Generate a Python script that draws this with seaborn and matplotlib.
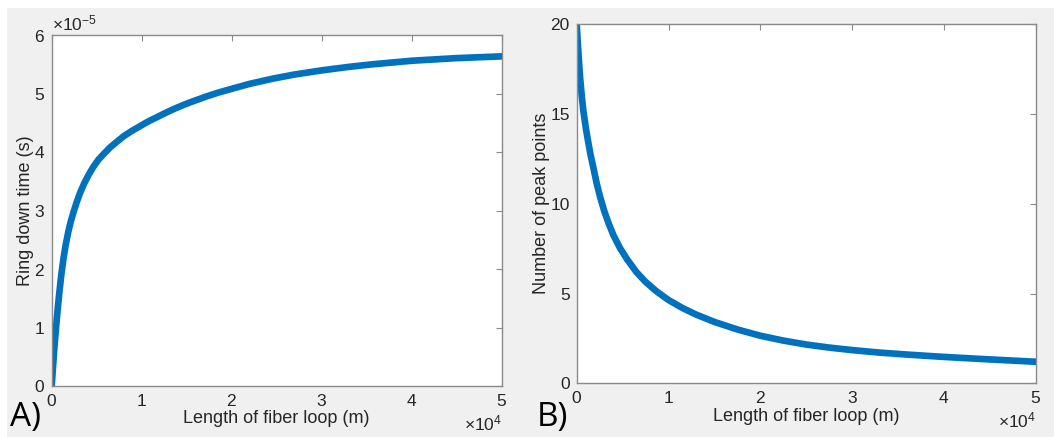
import matplotlib
matplotlib.use("Agg")
import matplotlib.pyplot as plt
from matplotlib.patches import Rectangle
from matplotlib.ticker import ScalarFormatter
import seaborn as sns
import pandas as pd

# ---- data ----
length_ring_m = [0, 130, 260, 400, 550, 700, 850, 1050, 1300, 1550, 1850, 2100,
                 2400, 2750, 3150, 3600, 4100, 4600, 5200, 5800, 6500, 7200, 8000,
                 8900, 9800, 10700, 11700, 12600, 13500, 14500, 15400, 16300,
                 17200, 18500, 20000, 22000, 24600, 27000, 30000, 33000, 35700,
                 40000, 45000, 50000]
ring_down_1e5 = [0.0, 0.29, 0.58, 0.85, 1.12, 1.37, 1.60, 1.88, 2.17, 2.41, 2.64,
                 2.80, 2.96, 3.13, 3.30, 3.46, 3.61, 3.74, 3.87, 3.97, 4.08, 4.17,
                 4.27, 4.36, 4.44, 4.52, 4.595, 4.665, 4.73, 4.795, 4.85, 4.90,
                 4.95, 5.015, 5.08, 5.165, 5.255, 5.325, 5.395, 5.455, 5.50, 5.56,
                 5.605, 5.635]
ring_down_s = [v * 1e-5 for v in ring_down_1e5]

length_peak_m = [0, 150, 360, 550, 720, 1000, 1270, 1500, 1800, 2150, 2540, 3000,
                 3450, 4000, 4700, 5500, 6500, 7500, 8700, 10000, 11500, 13000,
                 15000, 17500, 20000, 22500, 25000, 27500, 30000, 33000, 36000,
                 40000, 45000, 50000]
peak_points = [20.0, 18.7, 17.1, 16.0, 15.2, 14.2, 13.4, 12.75, 12.05, 11.2, 10.4,
               9.6, 8.95, 8.25, 7.55, 6.9, 6.2, 5.65, 5.12, 4.64, 4.20, 3.83, 3.42,
               3.0, 2.65, 2.38, 2.16, 1.99, 1.85, 1.71, 1.60, 1.47, 1.33, 1.20]

x_ticks = [0, 10000, 20000, 30000, 40000, 50000]
ring_y_ticks = [0, 1e-5, 2e-5, 3e-5, 4e-5, 5e-5, 6e-5]
peak_y_ticks = [0, 5, 10, 15, 20]

x_label = "Length of fiber loop (m)"
ring_label = "Ring down time (s)"
peak_label = "Number of peak points"
panel_labels = ["A)", "B)"]

# ---- styling ----
sns.set_style("white")
plt.rcParams["font.family"] = ["Liberation Sans", "DejaVu Sans"]
plt.rcParams["mathtext.fontset"] = "custom"
plt.rcParams["mathtext.rm"] = "Liberation Sans"

LINE_COLOR = "#0072BD"
AX_COLOR = "#8a8a8a"
TXT_COLOR = "#262626"
BG = "#f0f0f0"
TICK_FS = 12.5
LABEL_FS = 13

fig = plt.figure(figsize=(10.54, 4.37), dpi=100, facecolor=BG)
W, H = 1054, 437
fig.patches.append(Rectangle((0, (H - 8) / H), 1, 8 / H, transform=fig.transFigure,
                             facecolor="white", edgecolor="none", zorder=-5))
fig.patches.append(Rectangle((0, 0), 7 / W, 1, transform=fig.transFigure,
                             facecolor="white", edgecolor="none", zorder=-5))

ax1 = fig.add_axes([51.7 / W, (H - 386) / H, 450 / W, 351 / H])
ax2 = fig.add_axes([576.7 / W, (H - 383.3) / H, 459 / W, 359 / H])

df1 = pd.DataFrame({"L": length_ring_m, "tau": ring_down_s})
df2 = pd.DataFrame({"L": length_peak_m, "N": peak_points})

sns.lineplot(data=df1, x="L", y="tau", ax=ax1, color=LINE_COLOR, linewidth=4.8,
             estimator=None, sort=False)
sns.lineplot(data=df2, x="L", y="N", ax=ax2, color=LINE_COLOR, linewidth=4.8,
             estimator=None, sort=False)

for ax, yt, ylab in [(ax1, ring_y_ticks, ring_label), (ax2, peak_y_ticks, peak_label)]:
    ax.set_facecolor("white")
    ax.set_xlim(0, 50000)
    ax.set_ylim(yt[0], yt[-1])
    ax.set_xticks(x_ticks)
    ax.set_yticks(yt)
    for sp in ax.spines.values():
        sp.set_color(AX_COLOR)
        sp.set_linewidth(1.0)
        sp.set_visible(True)
    ax.tick_params(direction="in", top=True, right=True, length=4, width=0.8,
                   color=AX_COLOR, labelcolor=TXT_COLOR, labelsize=TICK_FS, pad=5)
    fx = ScalarFormatter(useMathText=True)
    fx.set_powerlimits((-3, 3))
    ax.xaxis.set_major_formatter(fx)
    ax.xaxis.get_offset_text().set_fontsize(TICK_FS)
    ax.xaxis.get_offset_text().set_color(TXT_COLOR)
    ax.set_xlabel(x_label, fontsize=LABEL_FS, color=TXT_COLOR, labelpad=1)
    ax.set_ylabel(ylab, fontsize=LABEL_FS, color=TXT_COLOR, labelpad=0)

fy = ScalarFormatter(useMathText=True)
fy.set_powerlimits((-3, 3))
ax1.yaxis.set_major_formatter(fy)
ax1.yaxis.get_offset_text().set_fontsize(TICK_FS)
ax1.yaxis.get_offset_text().set_color(TXT_COLOR)

fig.text(10 / W, (H - 426) / H, panel_labels[0], fontsize=24, color="black",
         ha="left", va="baseline", family=["Open Sans", "DejaVu Sans"])
fig.text(537 / W, (H - 426) / H, panel_labels[1], fontsize=24, color="black",
         ha="left", va="baseline", family=["Open Sans", "DejaVu Sans"])

fig.savefig("out.png", dpi=100, facecolor=BG)
